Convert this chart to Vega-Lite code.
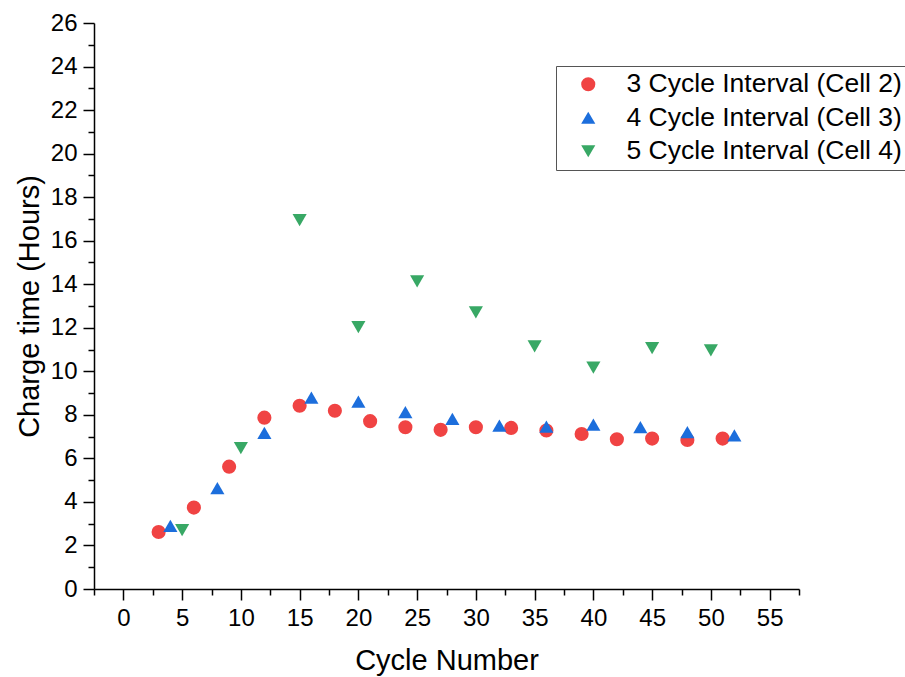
{
  "$schema": "https://vega.github.io/schema/vega-lite/v6.json",
  "width": 705,
  "height": 566,
  "autosize": {"type": "none"},
  "padding": {"left": 94, "top": 23, "right": 106, "bottom": 88},
  "background": "white",
  "config": {
    "view": {"stroke": null},
    "font": "Liberation Sans",
    "axis": {"grid": false, "domainColor": "black", "tickColor": "black", "labelColor": "black", "titleColor": "black", "titleFontWeight": "normal", "labelFont": "Liberation Sans", "titleFont": "Liberation Sans"}
  },
  "data": {
    "values": [
      {"series": "3 Cycle Interval (Cell 2)", "cycle": 3, "hours": 2.62},
      {"series": "3 Cycle Interval (Cell 2)", "cycle": 6, "hours": 3.74},
      {"series": "3 Cycle Interval (Cell 2)", "cycle": 9, "hours": 5.62},
      {"series": "3 Cycle Interval (Cell 2)", "cycle": 12, "hours": 7.87},
      {"series": "3 Cycle Interval (Cell 2)", "cycle": 15, "hours": 8.42},
      {"series": "3 Cycle Interval (Cell 2)", "cycle": 18, "hours": 8.19},
      {"series": "3 Cycle Interval (Cell 2)", "cycle": 21, "hours": 7.71},
      {"series": "3 Cycle Interval (Cell 2)", "cycle": 24, "hours": 7.43},
      {"series": "3 Cycle Interval (Cell 2)", "cycle": 27, "hours": 7.31},
      {"series": "3 Cycle Interval (Cell 2)", "cycle": 30, "hours": 7.43},
      {"series": "3 Cycle Interval (Cell 2)", "cycle": 33, "hours": 7.40},
      {"series": "3 Cycle Interval (Cell 2)", "cycle": 36, "hours": 7.28},
      {"series": "3 Cycle Interval (Cell 2)", "cycle": 39, "hours": 7.12},
      {"series": "3 Cycle Interval (Cell 2)", "cycle": 42, "hours": 6.88},
      {"series": "3 Cycle Interval (Cell 2)", "cycle": 45, "hours": 6.91},
      {"series": "3 Cycle Interval (Cell 2)", "cycle": 48, "hours": 6.85},
      {"series": "3 Cycle Interval (Cell 2)", "cycle": 51, "hours": 6.91},
      {"series": "4 Cycle Interval (Cell 3)", "cycle": 4, "hours": 2.90},
      {"series": "4 Cycle Interval (Cell 3)", "cycle": 8, "hours": 4.63},
      {"series": "4 Cycle Interval (Cell 3)", "cycle": 12, "hours": 7.17},
      {"series": "4 Cycle Interval (Cell 3)", "cycle": 16, "hours": 8.79},
      {"series": "4 Cycle Interval (Cell 3)", "cycle": 20, "hours": 8.61},
      {"series": "4 Cycle Interval (Cell 3)", "cycle": 24, "hours": 8.12},
      {"series": "4 Cycle Interval (Cell 3)", "cycle": 28, "hours": 7.81},
      {"series": "4 Cycle Interval (Cell 3)", "cycle": 32, "hours": 7.51},
      {"series": "4 Cycle Interval (Cell 3)", "cycle": 36, "hours": 7.46},
      {"series": "4 Cycle Interval (Cell 3)", "cycle": 40, "hours": 7.55},
      {"series": "4 Cycle Interval (Cell 3)", "cycle": 44, "hours": 7.44},
      {"series": "4 Cycle Interval (Cell 3)", "cycle": 48, "hours": 7.21},
      {"series": "4 Cycle Interval (Cell 3)", "cycle": 52, "hours": 7.06},
      {"series": "5 Cycle Interval (Cell 4)", "cycle": 5, "hours": 2.71},
      {"series": "5 Cycle Interval (Cell 4)", "cycle": 10, "hours": 6.47},
      {"series": "5 Cycle Interval (Cell 4)", "cycle": 15, "hours": 16.95},
      {"series": "5 Cycle Interval (Cell 4)", "cycle": 20, "hours": 12.03},
      {"series": "5 Cycle Interval (Cell 4)", "cycle": 25, "hours": 14.13},
      {"series": "5 Cycle Interval (Cell 4)", "cycle": 30, "hours": 12.71},
      {"series": "5 Cycle Interval (Cell 4)", "cycle": 35, "hours": 11.15},
      {"series": "5 Cycle Interval (Cell 4)", "cycle": 40, "hours": 10.17},
      {"series": "5 Cycle Interval (Cell 4)", "cycle": 45, "hours": 11.06},
      {"series": "5 Cycle Interval (Cell 4)", "cycle": 50, "hours": 10.96}
    ]
  },
  "resolve": {"axis": {"x": "independent", "y": "independent"}},
  "layer": [
    {
      "mark": {"type": "point", "opacity": 0},
      "encoding": {
        "x": {"field": "cycle", "type": "quantitative", "scale": {"domain": [-2.5, 57.5], "nice": false, "zero": false},
          "axis": {"orient": "bottom", "values": [-2.5, 2.5, 7.5, 12.5, 17.5, 22.5, 27.5, 32.5, 37.5, 42.5, 47.5, 52.5, 57.5], "labels": false, "domain": false, "tickSize": 6, "tickWidth": 1.5, "title": null}},
        "y": {"field": "hours", "type": "quantitative", "scale": {"domain": [0, 26], "nice": false, "zero": true},
          "axis": {"orient": "left", "values": [1, 3, 5, 7, 9, 11, 13, 15, 17, 19, 21, 23, 25], "labels": false, "domain": false, "tickSize": 6, "tickWidth": 1.5, "title": null}}
      }
    },
    {
      "mark": {"type": "point", "filled": true, "opacity": 1, "strokeWidth": 0},
      "encoding": {
        "x": {"field": "cycle", "type": "quantitative",
          "axis": {"orient": "bottom", "values": [0, 5, 10, 15, 20, 25, 30, 35, 40, 45, 50, 55], "tickSize": 11, "tickWidth": 1.5, "domainWidth": 1.5, "labelFontSize": 24, "labelPadding": 6, "title": "Cycle Number", "titleFontSize": 29, "titlePadding": 16}},
        "y": {"field": "hours", "type": "quantitative",
          "axis": {"orient": "left", "values": [0, 2, 4, 6, 8, 10, 12, 14, 16, 18, 20, 22, 24, 26], "tickSize": 11, "tickWidth": 1.5, "domainWidth": 1.5, "labelFontSize": 24, "labelPadding": 6, "title": "Charge time (Hours)", "titleFontSize": 29, "titlePadding": 6}},
        "color": {"field": "series", "type": "nominal",
          "scale": {"domain": ["3 Cycle Interval (Cell 2)", "4 Cycle Interval (Cell 3)", "5 Cycle Interval (Cell 4)"], "range": ["#F04343", "#1C6EDC", "#38A865"]},
          "legend": {"orient": "none", "legendX": 462, "legendY": 43, "title": null, "labelFontSize": 26.5, "labelLimit": 500, "labelColor": "black", "labelFont": "Liberation Sans", "strokeColor": "#555555", "fillColor": "white", "padding": 5, "symbolOffset": 14, "labelOffset": 25, "rowPadding": 6.5, "symbolSize": 200, "symbolStrokeWidth": 0}},
        "shape": {"field": "series", "type": "nominal",
          "scale": {"domain": ["3 Cycle Interval (Cell 2)", "4 Cycle Interval (Cell 3)", "5 Cycle Interval (Cell 4)"], "range": ["circle", "triangle-up", "triangle-down"]}},
        "size": {"value": 200}
      }
    }
  ]
}
